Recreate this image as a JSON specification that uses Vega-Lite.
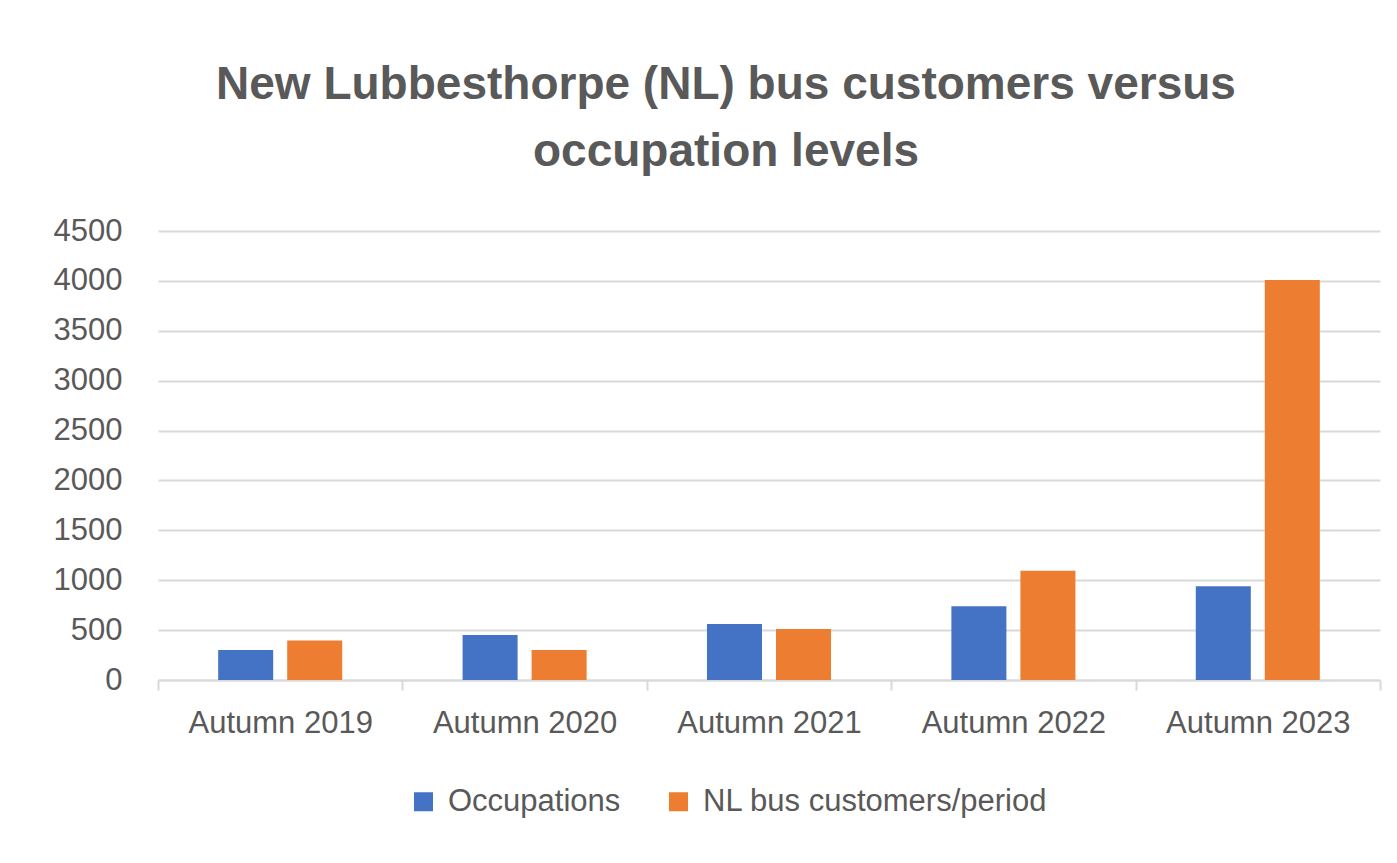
{
  "$schema": "https://vega.github.io/schema/vega-lite/v6.json",
  "autosize": {"type": "none"},
  "width": 1222,
  "height": 449,
  "padding": {"left": 158, "top": 231, "right": 17, "bottom": 183},
  "background": "white",
  "title": {
    "text": ["New Lubbesthorpe (NL) bus customers versus", "occupation levels"],
    "font": "Liberation Sans",
    "fontSize": 46,
    "fontWeight": "bold",
    "color": "#595959",
    "anchor": "middle",
    "frame": "group",
    "dx": -43,
    "lineHeight": 67,
    "offset": 39
  },
  "data": {
    "values": [
      {"period": "Autumn 2019", "series": "Occupations", "value": 300},
      {"period": "Autumn 2019", "series": "NL bus customers/period", "value": 395},
      {"period": "Autumn 2020", "series": "Occupations", "value": 450},
      {"period": "Autumn 2020", "series": "NL bus customers/period", "value": 300},
      {"period": "Autumn 2021", "series": "Occupations", "value": 560},
      {"period": "Autumn 2021", "series": "NL bus customers/period", "value": 510},
      {"period": "Autumn 2022", "series": "Occupations", "value": 740},
      {"period": "Autumn 2022", "series": "NL bus customers/period", "value": 1095},
      {"period": "Autumn 2023", "series": "Occupations", "value": 940},
      {"period": "Autumn 2023", "series": "NL bus customers/period", "value": 4010}
    ]
  },
  "mark": {"type": "bar"},
  "encoding": {
    "x": {
      "field": "period",
      "type": "nominal",
      "title": null,
      "scale": {"paddingInner": 0, "paddingOuter": 0},
      "axis": {
        "labelAngle": 0,
        "tickBand": "extent",
        "domainColor": "#d9d9d9",
        "domainWidth": 2,
        "tickColor": "#d9d9d9",
        "tickWidth": 2,
        "tickSize": 10,
        "labelPadding": 18,
        "labelLimit": 0,
        "labelFont": "Liberation Sans",
        "labelFontSize": 31,
        "labelColor": "#595959"
      }
    },
    "xOffset": {
      "field": "series",
      "type": "nominal",
      "sort": ["Occupations", "NL bus customers/period"],
      "scale": {"paddingInner": 0.203, "paddingOuter": 0.872}
    },
    "y": {
      "field": "value",
      "type": "quantitative",
      "title": null,
      "scale": {"domain": [0, 4500], "nice": false},
      "axis": {
        "values": [0, 500, 1000, 1500, 2000, 2500, 3000, 3500, 4000, 4500],
        "format": "d",
        "domain": false,
        "ticks": false,
        "tickSize": 0,
        "labelPadding": 36,
        "labelFont": "Liberation Sans",
        "labelFontSize": 31,
        "labelColor": "#595959",
        "gridColor": "#d9d9d9",
        "gridWidth": 2
      }
    },
    "color": {
      "field": "series",
      "type": "nominal",
      "sort": ["Occupations", "NL bus customers/period"],
      "scale": {"domain": ["Occupations", "NL bus customers/period"], "range": ["#4472c4", "#ed7d31"]},
      "legend": {
        "title": null,
        "orient": "none",
        "direction": "horizontal",
        "legendX": 250,
        "legendY": 555,
        "symbolType": "square",
        "symbolSize": 361,
        "symbolStrokeWidth": 0,
        "labelFont": "Liberation Sans",
        "labelFontSize": 31,
        "labelColor": "#595959",
        "labelOffset": 9,
        "labelLimit": 0,
        "columnPadding": 42
      }
    }
  },
  "config": {"view": {"stroke": null}}
}
